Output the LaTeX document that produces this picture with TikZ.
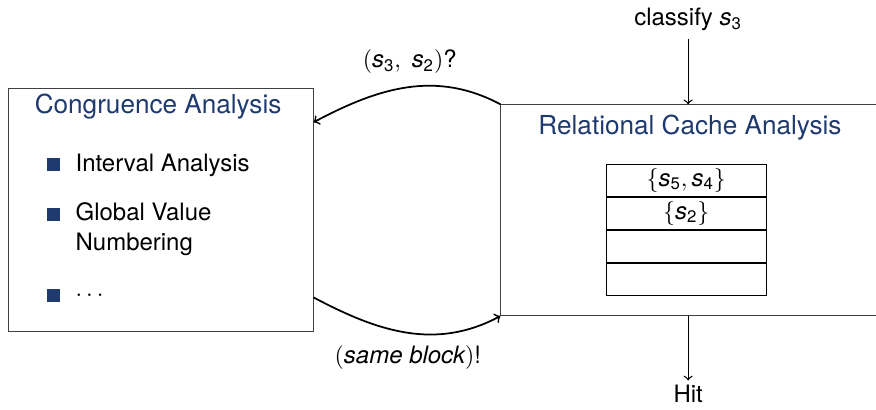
\documentclass[tikz,border=0pt]{standalone}
\usepackage{amsmath}
\usepackage{fontspec}
\setmainfont{TeX Gyre Heros}
\usetikzlibrary{positioning}

\definecolor{struct}{RGB}{30,58,110}
\newcommand{\sv}[1]{\mathit{s}_{\mathrm{#1}}}

\tikzset{
  box/.style={draw=black!75,thin,rectangle,inner sep=0pt},
  boxtitle/.style={text=struct,font=\fontsize{12}{14}\selectfont},
  bsq/.style={fill=struct,rectangle,inner sep=0pt,minimum size=0.21cm},
  entry/.style={anchor=west,align=left,inner sep=0pt},
  cell/.style={draw,thin,minimum width=2.57cm,minimum height=0.52cm,inner sep=1pt},
}

\begin{document}
\begin{tikzpicture}[font=\fontsize{11}{13.8}\selectfont,>=to,semithick]
\useasboundingbox (0,0) rectangle (14.13,6.61);

% the two analyses
\node[box,minimum width=4.92cm,minimum height=3.93cm] (cong) at (2.59,3.225) {};
\node[box,minimum width=6.4cm,minimum height=3.4cm] (rca) at (11.28,3.22) {};
\node[boxtitle] (congt) at (2.55,4.89) {Congruence Analysis};
\node[boxtitle] (rcat) at (11.13,4.56) {Relational Cache Analysis};

% items of the congruence analysis
\node[bsq] (b1) at (0.87,3.95) {};
\node[bsq] (b2) at (0.87,3.15) {};
\node[bsq] (b3) at (0.87,1.85) {};
\node[entry] (i1) at (1.21,3.95) {Interval Analysis};
\node[entry,anchor=north west] (i2) at (1.21,3.36) {Global Value\\Numbering};
\node[entry] (i3) at (1.21,1.85) {$\ldots$};

% cache set
\node[cell] (r1) at (11.07,3.705) {$\{\sv5,\sv4\}$};
\node[cell,below=0pt of r1] (r2) {$\{\sv2\}$};
\node[cell,below=0pt of r2] (r3) {};
\node[cell,below=0pt of r3] (r4) {};

% query and answer
\node (query) at (6.61,5.61) {$(\sv3,\ \sv2)$?};
\node (answer) at (6.58,0.84) {$(\textit{same block})$!};
\draw[->,thick] (rca.north west) to[out=152,in=28] ([yshift=-0.56cm]cong.north east);
\draw[->,thick] ([yshift=0.56cm]cong.south east) to[out=-28,in=-152] (rca.south west);

% access and result
\node (classify) at (11.10,6.29) {classify $\sv3$};
\node[inner sep=2pt] (hit) at (11.10,0.25) {Hit};
\draw[->] (classify) -- (classify |- rca.north);
\draw[->] (classify |- rca.south) -- (hit);
\end{tikzpicture}
\end{document}
